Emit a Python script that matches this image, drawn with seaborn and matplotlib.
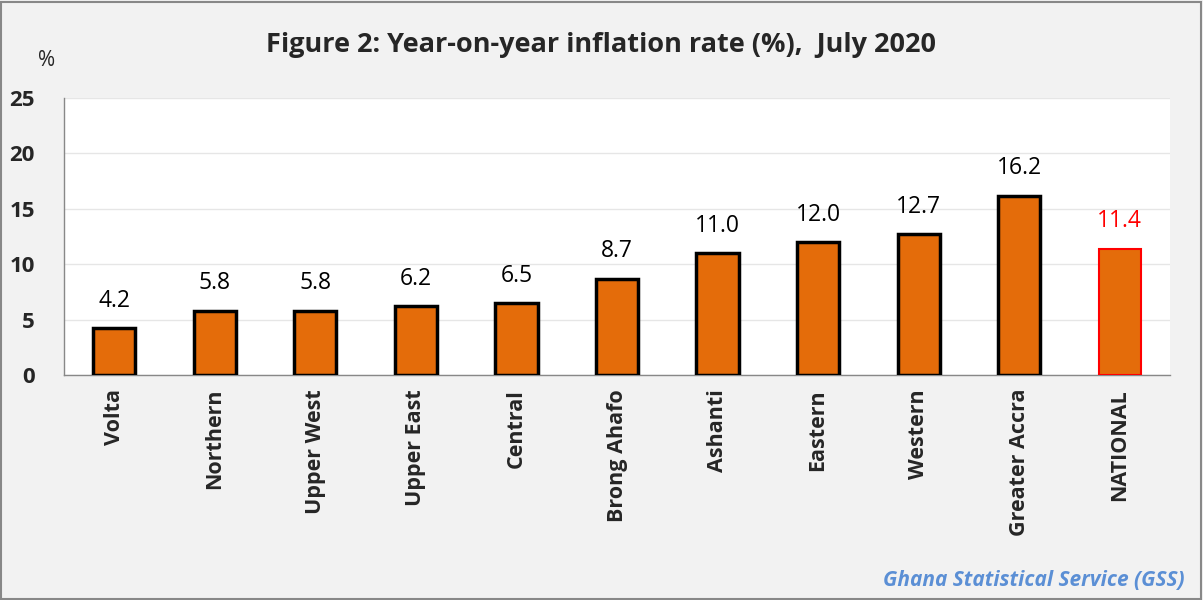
import matplotlib
matplotlib.use("Agg")
import matplotlib.pyplot as plt
import pandas as pd
import seaborn as sns
from matplotlib.patches import Rectangle

regions = ["Volta", "Northern", "Upper West", "Upper East", "Central",
           "Brong Ahafo", "Ashanti", "Eastern", "Western", "Greater Accra", "NATIONAL"]
rates = [4.2, 5.8, 5.8, 6.2, 6.5, 8.7, 11.0, 12.0, 12.7, 16.2, 11.4]
y_ticks = [0, 5, 10, 15, 20, 25]

df = pd.DataFrame({"region": regions, "rate": rates})

sns.set_style("white")
plt.rcParams["font.family"] = ["Open Sans", "DejaVu Sans"]

fig = plt.figure(figsize=(12.03, 6.0), dpi=100, facecolor="#F2F2F2")
ax = fig.add_axes([64 / 1203, 1 - 375 / 600, (1170 - 64) / 1203, (375 - 98) / 600])
ax.set_facecolor("white")

sns.barplot(data=df, x="region", y="rate", color="#E46C0A", width=0.42,
            saturation=1, edgecolor="black", linewidth=2.5, ax=ax, zorder=3)

# national bar has a red outline and red label
ax.patches[-1].set_edgecolor("red")
ax.patches[-1].set_linewidth(1.5)
for i, (p, v) in enumerate(zip(ax.patches, rates)):
    col = "red" if regions[i] == "NATIONAL" else "black"
    ax.annotate(f"{v:.1f}", (p.get_x() + p.get_width() / 2, v), xytext=(0, 11),
                textcoords="offset points", ha="center", va="bottom",
                fontsize=16.5, color=col)

ax.set_ylim(0, 25)
ax.set_xlim(-0.5, len(regions) - 0.5)
ax.set_yticks(y_ticks)
ax.set_yticklabels([str(t) for t in y_ticks], fontsize=16, fontweight="bold")
ax.yaxis.grid(True, color="#E6E6E6", linewidth=1, zorder=0)
ax.tick_params(axis="y", length=7, color="#888888", width=1, pad=14)

ax.set_xticks(range(len(regions)))
ax.set_xticklabels(regions, rotation=90, fontsize=15.5, fontweight="bold")
ax.tick_params(axis="x", which="major", length=0, pad=10)
ax.set_xticks([i + 0.5 for i in range(-1, len(regions))], minor=True)
ax.tick_params(axis="x", which="minor", length=7, color="#888888", width=1)

for s in ["top", "right"]:
    ax.spines[s].set_visible(False)
for s in ["left", "bottom"]:
    ax.spines[s].set_color("#888888")
    ax.spines[s].set_linewidth(1)
ax.set_xlabel("")
ax.set_ylabel("")

fig.text(0.5, 1 - 45 / 600, "Figure 2: Year-on-year inflation rate (%),  July 2020",
         ha="center", va="center", fontsize=19.5, fontweight="bold")
fig.text(47 / 1203, 1 - 60 / 600, "%", ha="center", va="center", fontsize=15)
fig.text(1185 / 1203, 1 - 580 / 600, "Ghana Statistical Service (GSS)", ha="right",
         va="center", fontsize=15, fontstyle="italic", fontweight="bold", color="#5B8FD5")

fig.patches.append(Rectangle((0.001, 0.002), 0.997, 0.995, transform=fig.transFigure,
                             fill=False, edgecolor="#888888", linewidth=1.5))

fig.savefig("out.png", dpi=100, facecolor=fig.get_facecolor())
